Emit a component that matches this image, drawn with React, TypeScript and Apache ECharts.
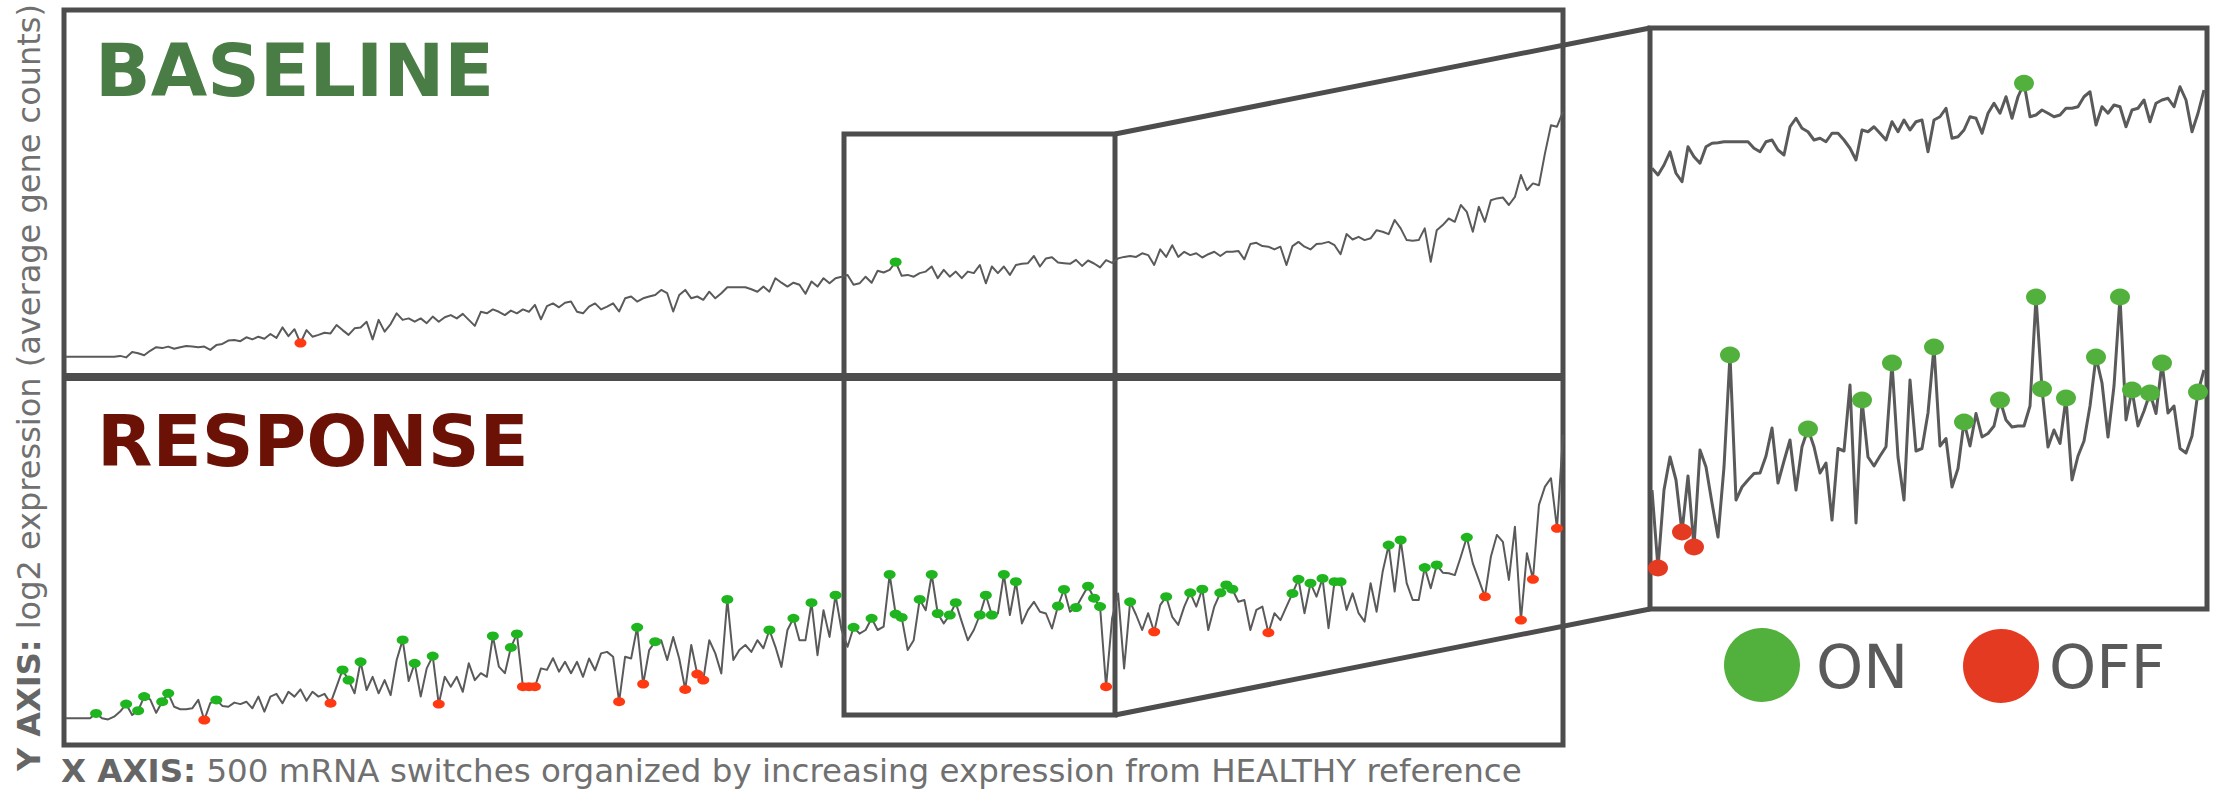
import React, { useEffect, useRef } from "react";
import * as echarts from "echarts";

// Left panels: every 2nd of the 500 mRNA switches (switch index = position * SWITCH_STEP)
const SWITCH_STEP = 2;

const baselineValues = [
  2.54, 2.54, 2.54, 2.54, 2.54, 2.54, 2.54, 2.54, 2.54, 2.57,
  2.52, 2.7, 2.66, 2.59, 2.74, 2.86, 2.83, 2.88, 2.81, 2.86,
  2.9, 2.88, 2.86, 2.88, 2.77, 2.93, 2.97, 3.08, 3.1, 3.06,
  3.19, 3.12, 3.21, 3.14, 3.3, 3.17, 3.52, 3.23, 3.46, 3.0,
  3.43, 3.21, 3.27, 3.34, 3.32, 3.6, 3.43, 3.27, 3.49, 3.52,
  3.71, 3.12, 3.77, 3.38, 3.63, 3.99, 3.77, 3.82, 3.71, 3.82,
  3.66, 3.88, 3.71, 3.86, 3.93, 3.82, 3.97, 3.77, 3.57, 4.04,
  3.99, 4.12, 4.04, 3.93, 4.08, 3.99, 4.12, 4.04, 4.27, 3.79,
  4.23, 4.32, 4.19, 4.34, 4.38, 4.04, 3.99, 4.21, 4.32, 4.12,
  4.21, 4.32, 4.05, 4.49, 4.55, 4.38, 4.49, 4.55, 4.6, 4.77,
  4.66, 4.05, 4.6, 4.77, 4.49, 4.55, 4.44, 4.71, 4.49, 4.66,
  4.86, 4.86, 4.86, 4.86, 4.79, 4.71, 4.88, 4.71, 5.16, 5.01,
  4.88, 5.01, 4.94, 4.64, 5.05, 4.88, 5.16, 4.99, 5.16, 5.21,
  5.27, 4.94, 4.99, 5.21, 5.01, 5.41, 5.35, 5.44, 5.7, 5.24,
  5.27, 5.21, 5.33, 5.38, 5.55, 5.16, 5.44, 5.21, 5.38, 5.16,
  5.38, 5.33, 5.6, 4.99, 5.55, 5.33, 5.55, 5.27, 5.6, 5.64,
  5.66, 5.9, 5.55, 5.82, 5.86, 5.68, 5.66, 5.64, 5.77, 5.57,
  5.75, 5.65, 5.52, 5.76, 5.67, 5.82, 5.87, 5.9, 5.87, 5.99,
  5.93, 5.6, 6.12, 5.87, 6.26, 5.87, 6.04, 5.93, 5.99, 5.85,
  5.96, 6.04, 5.9, 6.04, 6.04, 6.07, 5.79, 6.3, 6.34, 6.23,
  6.21, 6.12, 6.21, 5.6, 6.23, 6.37, 6.21, 6.12, 6.3, 6.32,
  6.37, 6.26, 5.96, 6.63, 6.45, 6.54, 6.43, 6.49, 6.76, 6.71,
  6.63, 7.1, 6.82, 6.43, 6.41, 6.43, 6.82, 5.71, 6.76, 6.93,
  7.15, 7.04, 7.6, 7.37, 6.71, 7.54, 7.04, 7.76, 7.82, 7.85,
  7.6, 7.87, 8.6, 8.1, 8.32, 8.26, 9.32, 10.26, 10.21, 10.71,
];

const responseValues = [
  2.76, 2.76, 2.76, 2.76, 2.76, 2.92, 2.76, 2.72, 2.81, 2.98,
  3.23, 2.87, 3.01, 3.48, 3.39, 2.94, 3.31, 3.59, 3.14, 3.06,
  3.06, 3.09, 3.37, 2.7, 3.26, 3.37, 3.17, 3.14, 3.28, 3.23,
  3.31, 3.09, 3.48, 2.98, 3.48, 3.57, 3.26, 3.64, 3.48, 3.72,
  3.34, 3.64, 3.48, 3.57, 3.26, 3.81, 4.37, 4.03, 3.59, 4.64,
  3.7, 4.14, 3.59, 4.03, 3.53, 4.7, 5.37, 4.0, 4.59, 3.48,
  4.42, 4.83, 3.23, 4.14, 3.81, 4.14, 3.64, 4.59, 4.03, 4.26,
  4.14, 5.5, 4.48, 4.26, 5.12, 5.57, 3.81, 3.81, 3.81, 4.42,
  4.37, 4.76, 4.31, 4.64, 4.26, 4.64, 4.14, 4.75, 4.36, 4.92,
  4.97, 4.81, 3.31, 4.81, 4.75, 5.79, 3.9, 5.03, 5.31, 5.36,
  4.7, 5.47, 4.75, 3.72, 5.2, 4.23, 4.03, 5.36, 4.92, 4.25,
  6.72, 4.7, 5.03, 5.2, 4.97, 5.36, 5.09, 5.7, 5.14, 4.47,
  5.7, 6.09, 5.36, 5.36, 6.61, 4.86, 6.36, 5.47, 6.86, 5.7,
  5.14, 5.79, 5.58, 5.7, 6.09, 5.7, 5.81, 7.55, 6.23, 6.12,
  5.03, 5.36, 6.72, 6.36, 7.55, 6.25, 5.92, 6.2, 6.61, 5.97,
  5.36, 5.7, 6.2, 6.86, 6.2, 6.25, 7.55, 6.2, 7.31, 5.92,
  6.36, 6.64, 6.31, 6.25, 5.75, 6.5, 7.05, 6.31, 6.45, 6.81,
  7.16, 6.76, 6.48, 3.81, 6.09, 6.92, 4.42, 6.64, 6.2, 5.7,
  6.26, 5.64, 6.53, 6.81, 6.14, 5.87, 6.48, 6.94, 6.48, 7.06,
  5.7, 6.48, 6.94, 7.2, 7.06, 6.64, 6.7, 5.7, 6.37, 6.48,
  5.61, 6.26, 6.03, 6.48, 6.92, 7.39, 6.26, 7.26, 6.81, 7.42,
  5.76, 7.31, 7.31, 6.37, 6.92, 6.26, 5.98, 7.26, 6.31, 7.64,
  8.53, 6.98, 8.7, 7.26, 6.7, 6.7, 7.78, 7.09, 7.87, 7.61,
  7.59, 7.53, 8.14, 8.79, 7.92, 7.37, 6.81, 8.14, 8.87, 8.64,
  7.37, 9.14, 6.03, 8.26, 7.39, 9.87, 10.48, 10.76, 9.09, 12.2,
];

// positions (in the arrays above) of switches flagged ON / OFF
const baselineOn = [138];
const baselineOff = [39];
const responseOn = [
  5, 10, 12, 13, 16, 17, 25, 46, 47, 49, 56, 58, 61, 71, 74, 75, 95, 98, 110, 117,
  121, 124, 128, 131, 134, 137, 138, 139, 142, 144, 145, 147, 148, 152, 153, 154,
  156, 158, 165, 166, 168, 170, 171, 172, 177, 183, 187, 189, 192, 193, 194, 204,
  205, 207, 209, 211, 212, 220, 222, 226, 228, 233,
];
const responseOff = [23, 44, 62, 76, 77, 78, 92, 96, 103, 105, 106, 173, 181, 200, 236, 242, 244, 248];

// Zoomed detail panel
const zoomBaselineValues = [
  17.51, 17.24, 17.64, 18.17, 17.31, 16.97, 18.37, 17.97, 17.71, 18.37,
  18.51, 18.53, 18.57, 18.57, 18.57, 18.57, 18.57, 18.31, 18.17, 18.57,
  18.64, 18.24, 18.04, 19.17, 19.51, 19.11, 18.97, 18.64, 18.71, 18.57,
  18.91, 18.91, 18.64, 18.31, 17.84, 19.04, 18.97, 19.17, 18.91, 18.64,
  19.37, 18.97, 19.44, 19.04, 19.37, 19.44, 18.17, 19.44, 19.57, 19.91,
  18.71, 18.77, 19.04, 19.57, 19.51, 18.91, 19.71, 20.11, 19.71, 20.37,
  19.51, 20.37, 20.91, 19.57, 19.64, 19.84, 19.71, 19.57, 19.64, 19.91,
  19.91, 19.97, 20.37, 20.57, 19.24, 19.97, 19.71, 20.04, 19.97, 19.17,
  19.84, 19.91, 20.24, 19.37, 20.11, 20.24, 20.31, 19.97, 20.77, 20.24,
  18.97, 19.71, 20.64,
];
const zoomResponseValues = [
  4.64, 1.52, 4.64, 5.96, 5.04, 2.96, 5.2, 2.36, 6.24, 5.56,
  4.12, 2.76, 5.56, 10.04, 4.24, 4.76, 5.04, 5.3, 5.32, 6.0,
  7.12, 4.92, 5.8, 6.64, 4.64, 6.37, 7.08, 6.37, 5.32, 5.72,
  3.44, 6.3, 6.2, 8.84, 3.32, 8.24, 5.96, 5.6, 6.0, 6.37,
  9.72, 5.96, 4.24, 9.04, 6.2, 6.3, 7.72, 10.36, 6.4, 6.7,
  4.76, 5.5, 7.36, 6.4, 7.7, 6.76, 6.9, 7.2, 8.24, 7.44,
  7.16, 7.2, 7.2, 8.0, 12.36, 8.68, 6.36, 7.04, 6.5, 8.32,
  5.04, 6.0, 6.6, 8.0, 9.96, 8.92, 6.76, 8.8, 12.36, 7.44,
  8.64, 7.2, 7.8, 8.52, 7.7, 9.72, 7.72, 8.0, 6.3, 6.12,
  6.8, 8.56, 9.44,
];
const zoomBaselineOn = [62];
const zoomResponseOn = [13, 26, 35, 40, 47, 52, 58, 64, 65, 69, 74, 78, 80, 83, 85, 91];
const zoomResponseOff = [1, 5, 7];

const panelTitles = ["BASELINE", "RESPONSE"];
const legendLabels = ["ON", "OFF"];
const xAxisLabelBold = "X AXIS:";
const xAxisLabelText = " 500 mRNA switches organized by increasing expression from HEALTHY reference";
const yAxisLabelBold = "Y AXIS:";
const yAxisLabelText = " log2 expression (average gene counts)";

const FONT = '"DejaVu Sans", sans-serif';
const BORDER = "#4d4d4d";
const LINE = "#5a5a5a";
const GREEN_S = "#1fb51f";
const RED_S = "#ff3a12";
const GREEN = "#52b03c";
const RED = "#e53a22";

const toPairs = (vals: number[], step: number) => vals.map((v, i) => [i * step, v]);
const pick = (vals: number[], idx: number[], step: number) => idx.map((i) => [i * step, vals[i]]);

export default function App() {
  const ref = useRef<HTMLDivElement>(null);
  useEffect(() => {
    if (!ref.current) return;
    const chart = echarts.init(ref.current, null, { renderer: "svg" });
    const lineSeries = (data: any[], axis: number, width: number) => ({
      type: "line",
      data,
      xAxisIndex: axis,
      yAxisIndex: axis,
      symbol: "none",
      showSymbol: false,
      silent: true,
      lineStyle: { color: LINE, width, join: "round" },
      z: 2,
    });
    const dotSeries = (name: string, data: any[], axis: number, color: string, size: number[]) => ({
      type: "scatter",
      name,
      data,
      xAxisIndex: axis,
      yAxisIndex: axis,
      symbol: "circle",
      symbolSize: size,
      itemStyle: { color, opacity: 1 },
      silent: true,
      z: 3,
    });
    const smallDot = [12, 9];
    const bigDot = [20, 17];
    const option: any = {
      animation: false,
      backgroundColor: "#ffffff",
      grid: [
        { left: 66, top: 13, width: 1497, height: 360 },
        { left: 66, top: 381, width: 1497, height: 360 },
        { left: 1652, top: 31, width: 552, height: 575 },
      ],
      xAxis: [
        { gridIndex: 0, type: "value", min: 0, max: 498, show: false },
        { gridIndex: 1, type: "value", min: 0, max: 498, show: false },
        { gridIndex: 2, type: "value", min: 0, max: 92, show: false },
      ],
      yAxis: [
        { gridIndex: 0, type: "value", min: 2, max: 14, show: false },
        { gridIndex: 1, type: "value", min: 2, max: 14, show: false },
        { gridIndex: 2, type: "value", min: 0, max: 23, show: false },
      ],
      series: [
        lineSeries(toPairs(baselineValues, SWITCH_STEP), 0, 2),
        dotSeries("ON", pick(baselineValues, baselineOn, SWITCH_STEP), 0, GREEN_S, smallDot),
        dotSeries("OFF", pick(baselineValues, baselineOff, SWITCH_STEP), 0, RED_S, smallDot),
        lineSeries(toPairs(responseValues, SWITCH_STEP), 1, 2),
        dotSeries("ON", pick(responseValues, responseOn, SWITCH_STEP), 1, GREEN_S, smallDot),
        dotSeries("OFF", pick(responseValues, responseOff, SWITCH_STEP), 1, RED_S, smallDot),
        lineSeries(toPairs(zoomBaselineValues, 1), 2, 3),
        lineSeries(toPairs(zoomResponseValues, 1), 2, 3),
        dotSeries("ON", pick(zoomBaselineValues, zoomBaselineOn, 1), 2, GREEN, bigDot),
        dotSeries("ON", pick(zoomResponseValues, zoomResponseOn, 1), 2, GREEN, bigDot),
        dotSeries("OFF", pick(zoomResponseValues, zoomResponseOff, 1), 2, RED, bigDot),
      ],
      graphic: [
        {
          type: "group",
          silent: true,
          z: 100,
          children: [
            { type: "rect", shape: { x: 64, y: 10, width: 1499, height: 735 }, style: { fill: "none", stroke: BORDER, lineWidth: 5 } },
            { type: "line", shape: { x1: 64, y1: 377, x2: 1563, y2: 377 }, style: { stroke: BORDER, lineWidth: 8 } },
            { type: "rect", shape: { x: 844, y: 134, width: 271, height: 581 }, style: { fill: "none", stroke: BORDER, lineWidth: 5 } },
            { type: "rect", shape: { x: 1650, y: 28, width: 557, height: 581 }, style: { fill: "none", stroke: BORDER, lineWidth: 5 } },
            { type: "line", shape: { x1: 1115, y1: 134, x2: 1650, y2: 28 }, style: { stroke: BORDER, lineWidth: 5 } },
            { type: "line", shape: { x1: 1115, y1: 715, x2: 1650, y2: 609 }, style: { stroke: BORDER, lineWidth: 5 } },
            {
              type: "text", x: 95, y: 70,
              style: { text: panelTitles[0], fontSize: 73, fontWeight: "bold", fontFamily: FONT, fill: "#4a7d45", textAlign: "left", textVerticalAlign: "middle", align: "left", verticalAlign: "middle" },
            },
            {
              type: "text", x: 97, y: 441,
              style: { text: panelTitles[1], fontSize: 72, fontWeight: "bold", fontFamily: FONT, fill: "#6b1106", textAlign: "left", textVerticalAlign: "middle", align: "left", verticalAlign: "middle" },
            },
            {
              type: "text", x: 61, y: 771,
              style: {
                text: "{b|" + xAxisLabelBold + "}" + xAxisLabelText,
                fontSize: 32.5, fontFamily: FONT, fill: "#707070", lineHeight: 34,
                textAlign: "left", textVerticalAlign: "middle", align: "left", verticalAlign: "middle",
                rich: { b: { fontSize: 32.5, fontWeight: "bold", fontFamily: FONT, fill: "#666666", lineHeight: 34 } },
              },
            },
            {
              type: "text", x: 29, y: 771, rotation: Math.PI / 2,
              style: {
                text: "{b|" + yAxisLabelBold + "}" + yAxisLabelText,
                fontSize: 32, fontFamily: FONT, fill: "#707070", lineHeight: 34,
                textAlign: "left", textVerticalAlign: "middle", align: "left", verticalAlign: "middle",
                rich: { b: { fontSize: 32, fontWeight: "bold", fontFamily: FONT, fill: "#666666", lineHeight: 34 } },
              },
            },
            { type: "ellipse", shape: { cx: 1762, cy: 665, rx: 38, ry: 37 }, style: { fill: GREEN } },
            {
              type: "text", x: 1816, y: 667,
              style: { text: legendLabels[0], fontSize: 60, fontFamily: FONT, fill: "#5a5a5a", textAlign: "left", textVerticalAlign: "middle", align: "left", verticalAlign: "middle" },
            },
            { type: "ellipse", shape: { cx: 2001, cy: 666, rx: 38, ry: 37 }, style: { fill: RED } },
            {
              type: "text", x: 2049, y: 667,
              style: { text: legendLabels[1], fontSize: 60, fontFamily: FONT, fill: "#5a5a5a", textAlign: "left", textVerticalAlign: "middle", align: "left", verticalAlign: "middle" },
            },
          ],
        },
      ],
    };
    chart.setOption(option);
    return () => chart.dispose();
  }, []);
  return (
    <div
      ref={ref}
      style={{ position: "absolute", left: 0, top: 0, width: 2219, height: 792, background: "#fff" }}
    />
  );
}
